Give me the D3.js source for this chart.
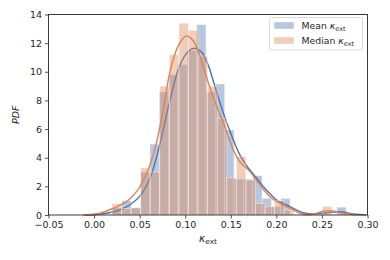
<!DOCTYPE html>
<html>
<head>
<meta charset="utf-8">
<script src="https://cdn.jsdelivr.net/npm/d3@7"></script>
<style>
  body { margin: 0; background: #fff; }
  text { font-family: "DejaVu Sans", sans-serif; fill: #262626; }
</style>
</head>
<body>
<svg id="chart" width="390" height="260"></svg>
<script>
// histogram bins (density)
const meanBinStart = 0.0202;
const meanBinWidth = 0.01026;
const meanDensity = [0.5, 1.0, 0.5, 3.0, 4.95, 8.6, 9.8, 10.5, 11.5, 13.3, 8.6, 9.15, 5.94,
    2.5, 2.5, 2.75, 1.16, 0.6, 1.16, 0, 0, 0, 0, 0, 0.55];

const medianBinStart = 0.0196;
const medianBinWidth = 0.0105;
const medianDensity = [0.8, 0.45, 0.5, 3.3, 3.0, 9.0, 11.2, 13.4, 12.9, 11.1, 9.0, 6.75, 2.6,
    4.1, 2.45, 0.8, 0.6, 1.0, 0.35, 0, 0, 0, 0.6];

// kde curves, [kappa, density]
const meanKde = [[-0.01, 0], [0.0, 0.02], [0.0136, 0.12], [0.028, 0.35], [0.039, 0.7], [0.05, 1.3],
    [0.061, 2.5], [0.072, 4.9], [0.0832, 8.0], [0.0938, 10.4], [0.103, 11.4], [0.1096, 11.64],
    [0.1176, 11.4], [0.125, 10.5], [0.132, 9.1], [0.1414, 7.2], [0.1506, 5.6], [0.160, 4.2],
    [0.169, 3.3], [0.178, 2.6], [0.189, 1.75], [0.2004, 1.05], [0.21, 0.75], [0.215, 0.58],
    [0.2297, 0.16], [0.2407, 0.07], [0.2554, 0.16], [0.27, 0.23], [0.2846, 0.07], [0.299, 0.01]];

const medianKde = [[-0.012, 0], [0.0063, 0.12], [0.021, 0.47], [0.0356, 0.93], [0.0466, 1.63],
    [0.0576, 2.9], [0.0667, 4.6], [0.0736, 6.6], [0.0777, 8.0], [0.0829, 9.9], [0.092, 11.76],
    [0.101, 12.5], [0.1085, 12.2], [0.1158, 11.17], [0.125, 9.31], [0.134, 7.68], [0.1433, 6.2],
    [0.1528, 4.54], [0.160, 3.72], [0.171, 3.03], [0.182, 2.1], [0.193, 1.28], [0.204, 0.81],
    [0.215, 0.47], [0.226, 0.12], [0.237, 0.02], [0.2516, 0.26], [0.2605, 0.3], [0.2735, 0.12],
    [0.288, 0.0]];

const xTicks = [-0.05, 0.00, 0.05, 0.10, 0.15, 0.20, 0.25, 0.30];
const yTicks = [0, 2, 4, 6, 8, 10, 12, 14];

const blue = "#4c72b0";
const orange = "#dd8452";

const margin = {left: 48.5, right: 22.5, top: 14.5, bottom: 45};
const width = 390, height = 260;

const svg = d3.select("#chart");

const x = d3.scaleLinear().domain([-0.05, 0.30]).range([margin.left, width - margin.right]);
const y = d3.scaleLinear().domain([0, 14]).range([height - margin.bottom, margin.top]);

function drawHist(start, w, dens, color) {
    const bins = dens.map((d, i) => ({x0: start + i * w, x1: start + (i + 1) * w, d: d}))
        .filter(b => b.d > 0);
    svg.append("g").selectAll("rect")
        .data(bins)
        .join("rect")
        .attr("x", b => x(b.x0))
        .attr("width", b => x(b.x1) - x(b.x0))
        .attr("y", b => y(b.d))
        .attr("height", b => y(0) - y(b.d))
        .attr("fill", color)
        .attr("fill-opacity", 0.4)
        .attr("stroke", "#fff")
        .attr("stroke-opacity", 0.5)
        .attr("stroke-width", 0.8);
}

function drawKde(pts, color) {
    const line = d3.line()
        .x(p => x(p[0]))
        .y(p => y(p[1]))
        .curve(d3.curveCatmullRom.alpha(0.5));
    svg.append("path")
        .datum(pts)
        .attr("d", line)
        .attr("fill", "none")
        .attr("stroke", color)
        .attr("stroke-width", 1.4);
}

drawHist(meanBinStart, meanBinWidth, meanDensity, blue);
drawKde(meanKde, blue);
drawHist(medianBinStart, medianBinWidth, medianDensity, orange);
drawKde(medianKde, orange);

// axes
const xAxis = svg.append("g")
    .attr("transform", `translate(0,${y(0)})`)
    .call(d3.axisBottom(x).tickValues(xTicks).tickSize(3.5).tickPadding(3)
        .tickFormat(d => d3.format(".2f")(d).replace("-", "\u2212")));
const yAxis = svg.append("g")
    .attr("transform", `translate(${x(-0.05)},0)`)
    .call(d3.axisLeft(y).tickValues(yTicks).tickSize(3.5).tickPadding(3));

[xAxis, yAxis].forEach(g => {
    g.select(".domain").remove();
    g.selectAll(".tick line").attr("stroke", "#262626").attr("stroke-width", 0.8);
    g.selectAll(".tick text").attr("font-size", 9.5).attr("font-family", "DejaVu Sans").attr("fill", "#262626");
});

// frame
svg.append("rect")
    .attr("x", x(-0.05))
    .attr("y", y(14))
    .attr("width", x(0.30) - x(-0.05))
    .attr("height", y(0) - y(14))
    .attr("fill", "none")
    .attr("stroke", "#262626")
    .attr("stroke-width", 0.9);

// axis labels
svg.append("text")
    .attr("transform", `translate(19,${(y(0) + y(14)) / 2}) rotate(-90)`)
    .attr("text-anchor", "middle")
    .attr("font-size", 9.5)
    .attr("font-style", "italic")
    .text("PDF");

function kappaLabel(sel, size) {
    sel.append("tspan").attr("font-style", "italic").attr("font-size", size).text("\u03ba");
    sel.append("tspan").attr("font-size", size * 0.7).attr("dy", size * 0.22).text("ext");
}

const xl = svg.append("text")
    .attr("x", (x(-0.05) + x(0.30)) / 2)
    .attr("y", 242)
    .attr("text-anchor", "middle");
kappaLabel(xl, 10.5);

// legend
const lg = svg.append("g").attr("transform", "translate(269.5,17.5)");
lg.append("rect")
    .attr("width", 93)
    .attr("height", 32.5)
    .attr("rx", 2)
    .attr("fill", "#fff")
    .attr("fill-opacity", 0.8)
    .attr("stroke", "#d0d0d0")
    .attr("stroke-width", 0.8);

const items = [{label: "Mean ", color: blue}, {label: "Median ", color: orange}];
items.forEach((it, i) => {
    const row = lg.append("g").attr("transform", `translate(0,${i * 15})`);
    row.append("rect")
        .attr("x", 4.5).attr("y", 4.5)
        .attr("width", 20).attr("height", 7)
        .attr("fill", it.color).attr("fill-opacity", 0.4)
        .attr("stroke", "#fff").attr("stroke-opacity", 0.5).attr("stroke-width", 0.8);
    const t = row.append("text").attr("x", 32).attr("y", 11.5).attr("font-size", 9.3);
    t.append("tspan").text(it.label);
    kappaLabel(t, 9.3);
});
</script>
</body>
</html>
